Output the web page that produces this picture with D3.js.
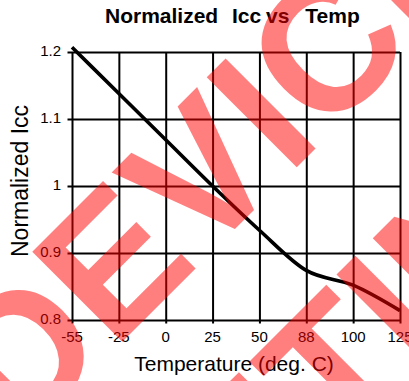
<!DOCTYPE html>
<html>
<head>
<meta charset="utf-8">
<script src="https://cdn.jsdelivr.net/npm/d3@7"></script>
<style>
  html, body { margin: 0; padding: 0; background: #fff; overflow: hidden; }
  svg { display: block; }
  text { font-family: "Liberation Sans", Arial, Helvetica, sans-serif; }
</style>
</head>
<body>
<script>
// ---- data ----
const categories = ["-55", "-25", "0", "25", "50", "88", "100", "125"];
const values = [1.207, 1.138, 1.069, 1.0, 0.934, 0.874, 0.852, 0.814];
const yTicks = [0.8, 0.9, 1.0, 1.1, 1.2];
const yTickLabels = ["0.8", "0.9", "1", "1.1", "1.2"];
const titleWords = ["Normalized", "Icc", "vs", "Temp"];
const xTitle = "Temperature (deg. C)";
const yTitle = "Normalized Icc";
const watermarkLines = ["DEVICE", "DISCONTINUED"];

const W = 409, H = 381;
const svg = d3.select("body").append("svg").attr("width", W).attr("height", H);

const x = d3.scalePoint().domain(categories).range([72, 400]);
const y = d3.scaleLinear().domain([0.8, 1.2]).range([320, 52]);

// grid (as axes with full-length ticks)
const gx = svg.append("g").attr("transform", "translate(0,320)")
  .call(d3.axisBottom(x).tickSize(-(320 - 52)).tickSizeOuter(0).tickFormat(""));
gx.select(".domain").remove();
gx.selectAll("line").attr("stroke", "#000").attr("stroke-width", 2)
  .attr("y1", 3.5);

const gy = svg.append("g").attr("transform", "translate(72,0)")
  .call(d3.axisLeft(y).tickValues(yTicks).tickSize(-(400 - 72)).tickSizeOuter(0).tickFormat(""));
gy.select(".domain").remove();
gy.selectAll("line").attr("stroke", "#000").attr("stroke-width", 2)
  .attr("x1", -4.5);

// tick labels
svg.append("g").selectAll("text").data(categories).join("text")
  .attr("x", d => x(d)).attr("y", 342)
  .attr("text-anchor", "middle").attr("font-size", 15).attr("fill", "#000")
  .text(d => d);

svg.append("g").selectAll("text").data(yTicks).join("text")
  .attr("x", 61).attr("y", d => y(d) + 4)
  .attr("text-anchor", "end").attr("font-size", 15).attr("fill", "#000")
  .text((d, i) => yTickLabels[i]);

// data line
const line = d3.line()
  .x((d, i) => x(categories[i]))
  .y(d => y(d))
  .curve(d3.curveMonotoneX);
svg.append("path").datum(values)
  .attr("d", line).attr("fill", "none").attr("stroke", "#000")
  .attr("stroke-width", 3.6).attr("stroke-linejoin", "round").attr("stroke-linecap", "butt");

// title
const t = svg.append("text").attr("x", 105).attr("y", 23)
  .attr("font-size", 21).attr("font-weight", "bold").attr("fill", "#000");
const gaps = [0, 8, -1, 10];
titleWords.forEach((w, i) => {
  t.append("tspan").attr("dx", i === 0 ? 0 : gaps[i]).text((i === 0 ? "" : " ") + w);
});

// axis titles
svg.append("text").attr("x", 234).attr("y", 371)
  .attr("text-anchor", "middle").attr("font-size", 21).attr("fill", "#000")
  .text(xTitle);
svg.append("text").attr("transform", "translate(28,257) rotate(-90)")
  .attr("text-anchor", "start").attr("font-size", 23).attr("fill", "#000")
  .text(yTitle);

// watermark
const wm = svg.append("g").attr("fill", "rgba(255,0,0,0.5)")
  .attr("font-weight", "bold").attr("font-size", 185);
const wmPos = [[19, 445], [-171, 962]];
wm.selectAll("text").data(watermarkLines).join("text")
  .attr("transform", (d, i) => `translate(${wmPos[i][0]},${wmPos[i][1]}) rotate(-45)`)
  .text(d => d);
</script>
</body>
</html>
